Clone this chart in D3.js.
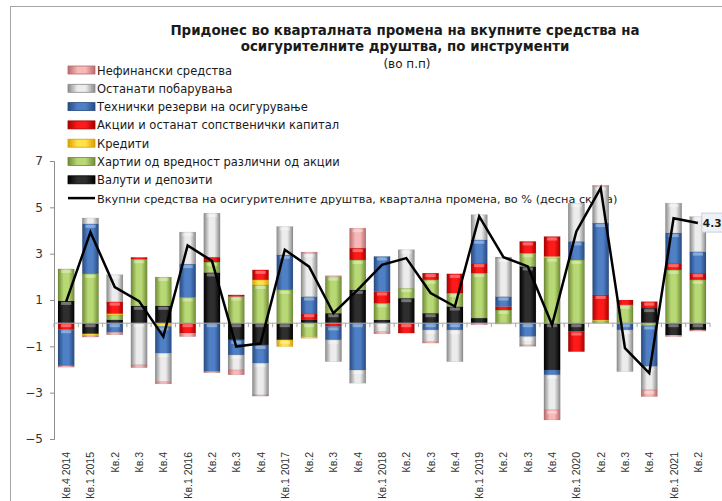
<html>
<head>
	<meta charset="utf-8">
	<style>
		body { margin: 0; background: #fff; }
		text { font-family: "DejaVu Sans", sans-serif; }
	</style>
</head>
<body>
	<svg id="chart" width="722" height="501"></svg>

	<script src="https://cdnjs.cloudflare.com/ajax/libs/d3/7.8.5/d3.min.js"></script>
	<script>

		var quarters = ["Кв.4 2014", "Кв.1 2015", "Кв.2", "Кв.3", "Кв.4", "Кв.1 2016", "Кв.2", "Кв.3", "Кв.4",
			"Кв.1 2017", "Кв.2", "Кв.3", "Кв.4", "Кв.1 2018", "Кв.2", "Кв.3", "Кв.4",
			"Кв.1 2019", "Кв.2", "Кв.3", "Кв.4", "Кв.1 2020", "Кв.2", "Кв.3", "Кв.4", "Кв.1 2021", "Кв.2"];

		// series values (п.п)
		var valuti     = [0.96, -0.46, 0.15, 0.75, 0.75, 0, 2.19, -0.72, -0.94, -0.72, 0.14, 0.43, 1.44, 0.14, 1.08, 0.43, 0.72, 0.22, 0, 2.45, -2.02, -0.36, 0, 0, 0.65, -0.52, -0.29];
		var hartii     = [1.38, 2.13, 0.2, 2.01, 1.24, 1.11, 0.45, 1.15, 1.65, 1.44, -0.58, 1.58, 1.29, 0.72, 0.43, 1.44, 0.58, 1.94, 0.57, 0.57, 2.83, 2.73, 0.10, 0.79, -0.10, 2.30, 1.87];
		var krediti    = [0, -0.09, 0.06, 0, -0.14, 0, 0, 0, 0.22, -0.29, -0.07, 0, 0, 0, 0, 0, 0, 0, -0.04, 0, 0.05, 0, 0.04, 0, 0, 0, 0];
		var akcii      = [-0.26, 0, 0.52, 0.08, 0, -0.43, 0.21, 0.07, 0.43, 0, 0.29, -0.14, 0.51, 0.51, -0.43, 0.29, 0.83, 0.43, 0.15, 0.51, 0.86, -0.87, 1.08, 0.21, 0.28, 0.29, 0.29];
		var tehnicki   = [-1.58, 2.16, -0.40, 0, -1.16, 1.44, -2.09, -0.65, -0.79, 1.51, 0.72, -0.58, -2.02, 1.51, 0, -0.29, -0.29, 1.01, 0.43, -0.58, -0.21, 0.80, 3.10, -0.29, -1.77, 1.30, 0.93];
		var ostanati   = [0, 0.25, 1.16, -1.80, -1.22, 1.38, 1.90, -0.65, -1.37, 1.22, 1.87, -0.94, -0.57, -0.36, 1.66, -0.50, -1.37, 1.08, 1.66, -0.36, -1.51, 1.65, 1.58, -1.80, -1.01, 1.29, 1.51];
		var nefinansiski = [-0.06, -0.05, -0.10, -0.12, -0.10, -0.15, -0.05, -0.21, -0.05, 0, 0.05, 0.04, 0.86, -0.10, 0, -0.07, 0, -0.07, 0.04, -0.06, -0.44, 0, 0.05, 0, -0.29, -0.06, -0.05];

		// total quarterly change, %
		var vkupno = [0.93, 3.93, 1.56, 0.95, -0.58, 3.35, 2.69, -1.01, -0.88, 3.17, 2.44, 0.43, 1.44, 2.52, 2.81, 1.30, 0.72, 4.61, 2.85, 2.45, -0.07, 3.96, 5.83, -1.08, -2.16, 4.53, 4.32];

		var yTicks = [-5, -3, -1, 1, 3, 5, 7];

		var series = [
			{ key: "valuti", name: "Валути и депозити", values: valuti, edge: "#000000", mid: "#2e2e2e" },
			{ key: "hartii", name: "Хартии од вредност различни од акции", values: hartii, edge: "#6e8b33", mid: "#b8d875" },
			{ key: "krediti", name: "Кредити", values: krediti, edge: "#d9a000", mid: "#ffe14a" },
			{ key: "akcii", name: "Акции и останат сопственички капитал", values: akcii, edge: "#a80000", mid: "#ff1a1a" },
			{ key: "tehnicki", name: "Технички резерви на осигурување", values: tehnicki, edge: "#274a82", mid: "#4f80c6" },
			{ key: "ostanati", name: "Останати побарувања", values: ostanati, edge: "#8a8a8a", mid: "#ececec" },
			{ key: "nefinansiski", name: "Нефинански средства", values: nefinansiski, edge: "#b86a6a", mid: "#f6b8b8" }
		];
		var lineName = "Вкупни средства на осигурителните друштва, квартална промена, во % (десна скала)";

		var svg = d3.select("#chart");
		svg.append("rect").attr("width", 722).attr("height", 501).attr("fill", "#ffffff");
		// outer frame
		svg.append("rect").attr("x", 10.5).attr("y", 6.5).attr("width", 760).attr("height", 520)
			.attr("fill", "none").attr("stroke", "#a6a6a6");

		var defs = svg.append("defs");
		series.forEach(function(s){
			var g = defs.append("linearGradient").attr("id", "grad-" + s.key)
				.attr("x1", "0%").attr("x2", "100%").attr("y1", "0%").attr("y2", "0%");
			g.append("stop").attr("offset", "0%").attr("stop-color", s.edge);
			g.append("stop").attr("offset", "35%").attr("stop-color", s.mid);
			g.append("stop").attr("offset", "65%").attr("stop-color", s.mid);
			g.append("stop").attr("offset", "100%").attr("stop-color", s.edge);
		});

		var x = d3.scaleBand().domain(d3.range(quarters.length)).range([54, 710]).paddingInner(0.33).paddingOuter(0.165);
		var y = d3.scaleLinear().domain([-5, 7]).range([439, 161]);

		// title
		svg.append("text").attr("x", 405).attr("y", 35).attr("text-anchor", "middle")
			.style("font-size", "13.4px").style("font-weight", "bold").attr("fill", "#1a1a1a")
			.text("Придонес во кварталната промена на вкупните средства на");
		svg.append("text").attr("x", 405).attr("y", 51).attr("text-anchor", "middle")
			.style("font-size", "13.4px").style("font-weight", "bold").attr("fill", "#1a1a1a")
			.text("осигурителните друштва, по инструменти");
		svg.append("text").attr("x", 407).attr("y", 68).attr("text-anchor", "middle")
			.style("font-size", "12px").attr("fill", "#1a1a1a").text("(во п.п)");

		// legend (reverse order, as in the original) - drawn under the bars
		var legendItems = series.slice().reverse();
		var leg = svg.append("g");
		legendItems.forEach(function(s, k){
			var ry = 70 + k * 18.3;
			leg.append("rect").attr("x", 68).attr("y", ry - 4).attr("width", 27).attr("height", 8)
				.attr("fill", "url(#grad-" + s.key + ")").attr("stroke", s.edge).attr("stroke-width", 0.8);
			leg.append("text").attr("x", 97).attr("y", ry + 4.5).style("font-size", "11.5px")
				.attr("fill", "#1a1a1a").text(s.name);
		});
		var lyy = 70 + legendItems.length * 18.3;
		leg.append("line").attr("x1", 68).attr("x2", 95).attr("y1", lyy).attr("y2", lyy)
			.attr("stroke", "#000").attr("stroke-width", 2.5);
		leg.append("text").attr("x", 97).attr("y", lyy + 4.5).style("font-size", "11.3px")
			.attr("fill", "#1a1a1a").text(lineName);

		// y axis
		var yAxis = svg.append("g").attr("transform", "translate(54,0)")
			.call(d3.axisLeft(y).tickValues(yTicks).tickSize(4).tickFormat(d3.format("d")));
		yAxis.select(".domain").attr("stroke", "#8c8c8c");
		yAxis.selectAll(".tick line").attr("stroke", "#8c8c8c");
		yAxis.selectAll(".tick text").attr("fill", "#333").style("font-size", "12px")
			.style("font-family", "DejaVu Sans, sans-serif").attr("x", -11);

		// stacked bars
		var rows = quarters.map(function(q, i){
			var r = { i: i };
			series.forEach(function(s){ r[s.key] = s.values[i]; });
			return r;
		});
		var stacked = d3.stack().keys(series.map(function(s){ return s.key; }))
			.offset(d3.stackOffsetDiverging)(rows);

		var layers = svg.append("g").selectAll("g").data(stacked).enter().append("g")
			.attr("fill", function(d){ return "url(#grad-" + d.key + ")"; });

		layers.selectAll("rect.seg").data(function(d){ return d.filter(function(p){ return p[1] != p[0]; }); })
			.enter().append("rect").attr("class", "seg")
			.attr("x", function(d){ return x(d.data.i); })
			.attr("width", x.bandwidth())
			.attr("y", function(d){ return y(Math.max(d[0], d[1])); })
			.attr("height", function(d){ return Math.abs(y(d[0]) - y(d[1])); })
			.attr("stroke", "rgba(0,0,0,0.15)")
			.attr("stroke-width", 0.5);

		// bevel highlight at top of each segment
		layers.selectAll("rect.hi").data(function(d){ return d.filter(function(p){ return Math.abs(y(p[0]) - y(p[1])) > 6; }); })
			.enter().append("rect").attr("class", "hi")
			.attr("x", function(d){ return x(d.data.i) + 3; })
			.attr("width", x.bandwidth() - 6)
			.attr("y", function(d){ return y(Math.max(d[0], d[1])) + 1; })
			.attr("height", 3)
			.attr("fill", "#ffffff").attr("opacity", 0.35);

		// zero axis
		svg.append("line").attr("x1", 54).attr("x2", 710).attr("y1", y(0)).attr("y2", y(0))
			.attr("stroke", "#a6a6a6");
		svg.append("g").selectAll("line").data(d3.range(quarters.length + 1)).enter().append("line")
			.attr("x1", function(d){ return 54 + d * x.step(); })
			.attr("x2", function(d){ return 54 + d * x.step(); })
			.attr("y1", y(0)).attr("y2", y(0) + 4)
			.attr("stroke", "#a6a6a6");

		// total line
		var line = d3.line().x(function(d, i){ return x(i) + x.bandwidth() / 2; }).y(function(d){ return y(d); });
		svg.append("path").datum(vkupno).attr("d", line).attr("fill", "none")
			.attr("stroke", "#000").attr("stroke-width", 2.5).attr("stroke-linejoin", "miter");

		// data label of last point
		var last = vkupno.length - 1;
		var lx = x(last) + x.bandwidth() / 2 + 4, ly = y(vkupno[last]);
		svg.append("rect").attr("x", lx).attr("y", ly - 10).attr("width", 30).attr("height", 19)
			.attr("fill", "#eef2f8").attr("stroke", "#c8d0dc");
		svg.append("text").attr("x", lx + 1).attr("y", ly + 4).style("font-size", "10.5px")
			.style("font-weight", "bold").attr("fill", "#1a1a1a").text(d3.format(".1f")(vkupno[last]));

		// category labels
		svg.append("g").selectAll("text").data(quarters).enter().append("text")
			.attr("transform", function(d, i){ return "translate(" + (x(i) + x.bandwidth() / 2 + 4) + ",452) rotate(-90)"; })
			.attr("text-anchor", "end").style("font-size", "10.5px").style("font-family", "Liberation Sans, Arial, sans-serif")
			.attr("fill", "#333")
			.text(function(d){ return d; });
	</script>
</body>
</html>
